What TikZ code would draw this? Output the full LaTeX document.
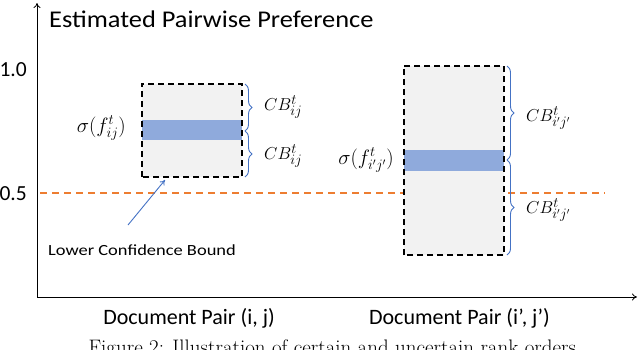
\documentclass[tikz,border=0pt]{standalone}
\usepackage{fontspec}
\setmainfont{Carlito}
\newfontfamily\capfont{Latin Modern Roman}
\usetikzlibrary{decorations.pathreplacing,arrows.meta}
\definecolor{barblue}{RGB}{143,170,220}
\definecolor{bracblue}{RGB}{68,114,196}
\definecolor{orangeline}{RGB}{237,125,49}
\definecolor{boxgray}{RGB}{242,242,242}
\tikzset{
  boxbg/.style={fill=boxgray, draw=none, inner sep=0pt},
  barnode/.style={fill=barblue, draw=none, inner sep=0pt},
  dashbox/.style={draw=black, line width=1.8pt, dash pattern=on 6pt off 4pt},
  bracestyle/.style={draw=bracblue, line width=0.9pt, decorate, decoration={brace, amplitude=7pt}},
  lbl/.style={inner sep=0pt},
  mathlbl/.style={inner sep=0pt, font=\fontsize{19}{21}\selectfont},
  axis/.style={line width=0.8pt, -{To[length=5pt,width=7pt]}},
}
\begin{document}
\begin{tikzpicture}[x=1pt,y=-1pt]
\useasboundingbox (0,0) rectangle (640,349);
\clip (0,0) rectangle (640,349);
% axes
\coordinate (O) at (37,297);
\coordinate (ytop) at (37,3);
\coordinate (xend) at (637,297);
\draw[axis] (O) -- (ytop);
\draw[axis] (O) -- (xend);
\node[lbl, anchor=base west, font=\fontsize{24}{26}\selectfont] (title) at (49,27.7) {\scalebox{1.1}[1]{Estimated Pairwise Preference}};
\node[lbl, anchor=base east, font=\fontsize{21.5}{24}\selectfont] (one) at (27,76) {1.0};
\node[lbl, anchor=base east, font=\fontsize{21.5}{24}\selectfont] (half) at (27,200) {0.5};
% orange line
\coordinate (ol) at (40,193);
\coordinate (or) at (605,193);
\draw[orangeline, line width=1.5pt, dash pattern=on 7pt off 5pt] (ol) -- (or);
% box 1
\node[boxbg, minimum width=100pt, minimum height=93pt] (b1) at (192,130.5) {};
\node[barnode, minimum width=100pt, minimum height=20pt] (bar1) at (192,130) {};
\draw[dashbox] (b1.south west) rectangle (b1.north east);
% box 2
\node[boxbg, minimum width=100pt, minimum height=189pt] (b2) at (454,160.5) {};
\node[barnode, minimum width=100pt, minimum height=21pt] (bar2) at (454,160.5) {};
\draw[dashbox] (b2.south west) rectangle (b2.north east);
% braces 1
\coordinate (t1) at (245,84);
\coordinate (m1) at (245,131);
\coordinate (e1) at (245,177);
\draw[bracestyle] (t1) -- (m1);
\draw[bracestyle] (m1) -- (e1);
\node[mathlbl, anchor=west] (cb1a) at (264,107) {$CB_{ij}^{t}$};
\node[mathlbl, anchor=west] (cb1b) at (264,156) {$CB_{ij}^{t}$};
\node[mathlbl, anchor=east, font=\fontsize{20}{22}\selectfont] (s1) at (126,128) {$\sigma(f_{ij}^{t})$};
% braces 2
\coordinate (t2) at (507,66);
\coordinate (m2) at (507,160);
\coordinate (e2) at (507,255);
\draw[bracestyle] (t2) -- (m2);
\draw[bracestyle] (m2) -- (e2);
\node[mathlbl, anchor=west] (cb2a) at (526,118) {$CB_{i'j'}^{t}$};
\node[mathlbl, anchor=west] (cb2b) at (526,210) {$CB_{i'j'}^{t}$};
\node[mathlbl, anchor=east, font=\fontsize{20}{22}\selectfont] (s2) at (394,160) {$\sigma(f_{i'j'}^{t})$};
% lower confidence bound
\node[lbl, anchor=base west, font=\fontsize{15.5}{17}\selectfont] (lcb) at (48,255.7) {\scalebox{1.19}[1]{Lower Confidence Bound}};
\coordinate (arrtail) at (128,225);
\coordinate (arrtip) at (165,180);
\draw[bracblue, line width=0.9pt, -{To[length=5pt,width=6pt]}] (arrtail) -- (arrtip);
% x labels
\node[lbl, anchor=base, font=\fontsize{22}{24}\selectfont] (d1) at (189,324) {Document Pair (i, j)};
\node[lbl, anchor=base, font=\fontsize{22}{24}\selectfont] (d2) at (459.5,324) {Document Pair (i’, j’)};
% caption (clipped)
\node[inner sep=0pt, anchor=base, font=\capfont\fontsize{21}{23}\selectfont] (cap) at (335,354) {Figure 2: Illustration of certain and uncertain rank orders.};
\end{tikzpicture}
\end{document}
